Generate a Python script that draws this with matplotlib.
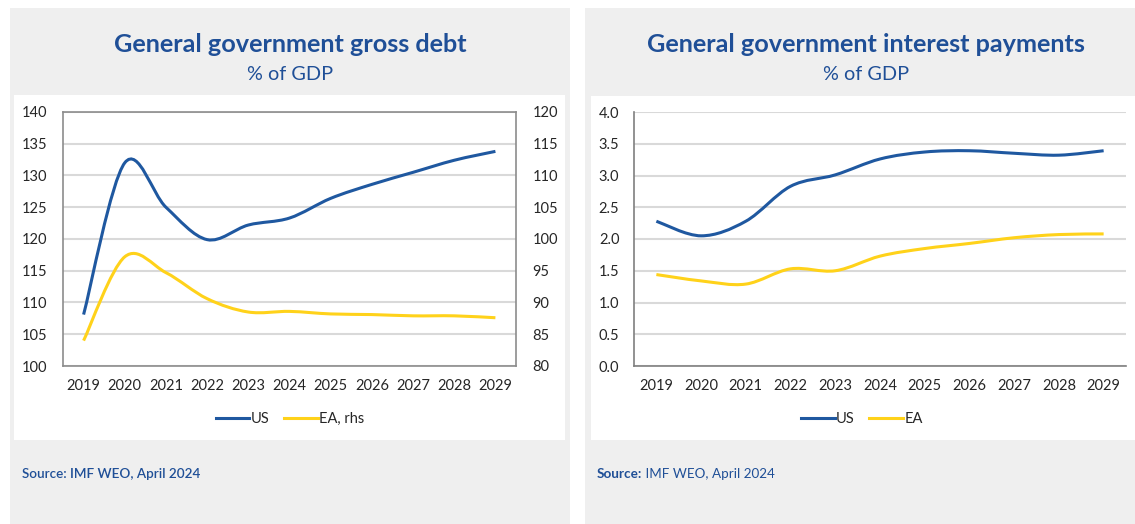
import matplotlib
matplotlib.use("Agg")
import matplotlib.pyplot as plt
from matplotlib.patches import Rectangle, PathPatch
from matplotlib.path import Path
from matplotlib.lines import Line2D

# ---- data -------------------------------------------------------------
years = ["2019", "2020", "2021", "2022", "2023", "2024",
         "2025", "2026", "2027", "2028", "2029"]

debt_us = [108.1, 132.0, 125.0, 119.9, 122.2, 123.3, 126.4, 128.6, 130.5, 132.4, 133.8]
debt_ea = [84.0, 97.2, 94.7, 90.6, 88.5, 88.6, 88.2, 88.1, 87.9, 87.9, 87.6]

interest_us = [2.28, 2.05, 2.28, 2.83, 3.01, 3.26, 3.37, 3.39, 3.35, 3.32, 3.39]
interest_ea = [1.44, 1.34, 1.29, 1.53, 1.50, 1.73, 1.85, 1.93, 2.02, 2.07, 2.08]

debt_left_ticks = [100, 105, 110, 115, 120, 125, 130, 135, 140]
debt_right_ticks = [80, 85, 90, 95, 100, 105, 110, 115, 120]
interest_ticks = [0.0, 0.5, 1.0, 1.5, 2.0, 2.5, 3.0, 3.5, 4.0]

# ---- style ------------------------------------------------------------
FONT = "Lato"
plt.rcParams["font.family"] = [FONT, "DejaVu Sans"]
BLUE_TXT = "#1f4f97"
US_COL = "#1f58a0"
EA_COL = "#ffd21a"
GRID = "#d9d9d9"
PANEL = "#efefef"
TICK_COL = "#262626"

W, H = 1135, 524
fig = plt.figure(figsize=(W / 100, H / 100), dpi=100)
fig.patch.set_facecolor("white")


def px_rect(x0, y0, x1, y1):
    """Convert a pixel box (top-left origin) to figure fractions."""
    return [x0 / W, 1 - y1 / H, (x1 - x0) / W, (y1 - y0) / H]


def add_box(x0, y0, x1, y1, color):
    l, b, w, h = px_rect(x0, y0, x1, y1)
    fig.patches.append(Rectangle((l, b), w, h, transform=fig.transFigure,
                                 facecolor=color, edgecolor="none", zorder=-5))


def smooth_line(ax, xs, ys, color, lw=2.2):
    """Draw a smoothed (Catmull-Rom style Bezier) line through the points."""
    n = len(xs)
    pts = list(zip(xs, ys))
    verts = [pts[0]]
    codes = [Path.MOVETO]
    t = 1 / 6
    for i in range(n - 1):
        p0 = pts[i - 1] if i > 0 else pts[i]
        p1 = pts[i]
        p2 = pts[i + 1]
        p3 = pts[i + 2] if i + 2 < n else pts[i + 1]
        c1 = (p1[0] + (p2[0] - p0[0]) * t, p1[1] + (p2[1] - p0[1]) * t)
        c2 = (p2[0] - (p3[0] - p1[0]) * t, p2[1] - (p3[1] - p1[1]) * t)
        verts += [c1, c2, p2]
        codes += [Path.CURVE4] * 3
    patch = PathPatch(Path(verts, codes), facecolor="none", edgecolor=color,
                      lw=lw, capstyle="butt", zorder=3)
    ax.add_patch(patch)


# ---- panels -------------------------------------------------------------
add_box(10, 8, 570, 524, PANEL)
add_box(14, 95, 565, 440, "white")
add_box(585, 8, 1135, 524, PANEL)
add_box(591, 96, 1135, 440, "white")

xpos = list(range(len(years)))

# ---- left chart: gross debt ---------------------------------------------
ax1 = fig.add_axes(px_rect(63, 112, 516, 366))
ax1.set_facecolor("none")
ax1.set_xlim(-0.5, len(years) - 0.5)
ax1.set_ylim(100, 140)
ax1.set_yticks(debt_left_ticks)
ax1.set_xticks(xpos)
ax1.set_xticklabels(years)
ax1.yaxis.grid(True, color=GRID, lw=1.5)
ax1.set_axisbelow(True)
for s in ax1.spines.values():
    s.set_color("#8c8c8c")
    s.set_linewidth(1.2)
ax1.tick_params(length=0, labelsize=10.5, colors=TICK_COL, pad=9)
ax1.tick_params(axis="y", pad=11)

ax1r = ax1.twinx()
ax1r.set_ylim(80, 120)
ax1r.set_yticks(debt_right_ticks)
ax1r.tick_params(length=0, labelsize=10.5, colors=TICK_COL, pad=12)
for s in ax1r.spines.values():
    s.set_visible(False)

smooth_line(ax1, xpos, debt_us, US_COL)
smooth_line(ax1r, xpos, debt_ea, EA_COL)

# ---- right chart: interest payments -------------------------------------
ax2 = fig.add_axes(px_rect(634, 112, 1126, 366))
ax2.set_facecolor("none")
ax2.set_xlim(-0.5, len(years) - 0.5)
ax2.set_ylim(0, 4)
ax2.set_yticks(interest_ticks)
ax2.set_yticklabels([f"{v:.1f}" for v in interest_ticks])
ax2.set_xticks(xpos)
ax2.set_xticklabels(years)
ax2.yaxis.grid(True, color=GRID, lw=1.5)
ax2.set_axisbelow(True)
for k in ("top", "right"):
    ax2.spines[k].set_visible(False)
for k in ("left", "bottom"):
    ax2.spines[k].set_color("#7f7f7f")
    ax2.spines[k].set_linewidth(1.2)
ax2.tick_params(length=0, labelsize=10.5, colors=TICK_COL, pad=9)
ax2.tick_params(axis="y", pad=10.5)

smooth_line(ax2, xpos, interest_us, US_COL)
smooth_line(ax2, xpos, interest_ea, EA_COL)

# ---- titles ---------------------------------------------------------------
fig.text(290 / W, 1 - 45 / H, "General government gross debt", ha="center", va="center",
         fontsize=18.2, fontweight="bold", color=BLUE_TXT)
fig.text(290 / W, 1 - 75 / H, "% of GDP", ha="center", va="center",
         fontsize=14.3, color=BLUE_TXT)
fig.text(866 / W, 1 - 45 / H, "General government interest payments", ha="center", va="center",
         fontsize=18.2, fontweight="bold", color=BLUE_TXT)
fig.text(866 / W, 1 - 75 / H, "% of GDP", ha="center", va="center",
         fontsize=14.3, color=BLUE_TXT)

# ---- legends --------------------------------------------------------------
def legend_at(cx, labels):
    handles = [Line2D([], [], color=US_COL, lw=2.2),
               Line2D([], [], color=EA_COL, lw=2.2)]
    fig.legend(handles, labels, loc="center", bbox_to_anchor=(cx / W, 1 - 419 / H),
               ncol=2, frameon=False, fontsize=10.5, handlelength=2.3,
               handletextpad=0.1, columnspacing=1.0, labelcolor=TICK_COL)


legend_at(290, ["US", "EA, rhs"])
legend_at(862, ["US", "EA"])

# ---- sources --------------------------------------------------------------
fig.text(22 / W, 1 - 474 / H, "Source: IMF WEO, April 2024", ha="left", va="center",
         fontsize=9.7, fontweight="semibold", color=BLUE_TXT)
src = fig.text(597 / W, 1 - 474 / H, "Source:", ha="left", va="center",
               fontsize=9.7, fontweight="bold", color=BLUE_TXT)
fig.add_artist(plt.Annotation(" IMF WEO, April 2024", xy=(1, 0.5), xycoords=src,
                              ha="left", va="center", fontsize=9.7, color=BLUE_TXT))

fig.savefig("out.png", dpi=100)
